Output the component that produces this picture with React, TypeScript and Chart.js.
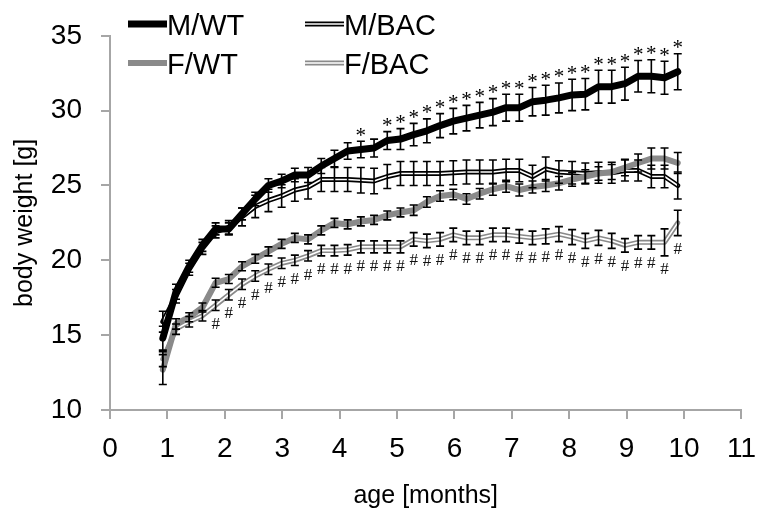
import React, { useEffect, useRef } from 'react';
import { Chart, registerables } from 'chart.js';

Chart.register(...registerables);

// ---- data ----
const ages = [
  0.92, 1.15, 1.38, 1.61, 1.84, 2.07, 2.30, 2.53, 2.76, 2.99,
  3.22, 3.45, 3.68, 3.91, 4.14, 4.37, 4.60, 4.83, 5.06, 5.29,
  5.52, 5.75, 5.98, 6.21, 6.44, 6.67, 6.90, 7.13, 7.36, 7.59,
  7.82, 8.05, 8.28, 8.51, 8.74, 8.97, 9.20, 9.43, 9.66, 9.89,
];

const mWT = [
  14.8, 17.9, 19.6, 21.0, 22.1, 22.1, 23.1, 24.1, 25.0, 25.3,
  25.7, 25.7, 26.3, 26.8, 27.3, 27.4, 27.5, 28.0, 28.1, 28.4,
  28.65, 29.0, 29.3, 29.5, 29.7, 29.9, 30.2, 30.2, 30.6, 30.7,
  30.85, 31.05, 31.1, 31.6, 31.6, 31.8, 32.3, 32.3, 32.2, 32.6,
];
const mWTErr = [
  0.8, 0.5, 0.4, 0.4, 0.4, 0.4, 0.4, 0.45, 0.45, 0.45,
  0.45, 0.5, 0.5, 0.55, 0.55, 0.55, 0.6, 0.6, 0.7, 0.75,
  0.8, 0.8, 0.85, 0.85, 0.85, 0.9, 0.9, 0.9, 0.95, 1.0,
  1.0, 1.05, 1.05, 1.1, 1.1, 1.1, 1.05, 1.1, 1.1, 1.2,
];

const mBAC = [
  15.9, 17.6, 19.4, 20.8, 21.9, 22.2, 22.9, 23.6, 24.0, 24.3,
  24.7, 24.9, 25.4, 25.4, 25.4, 25.35, 25.3, 25.6, 25.8, 25.8,
  25.8, 25.8, 25.85, 25.9, 25.9, 25.9, 26.0, 26.0, 25.6, 26.1,
  25.9, 25.85, 25.8, 25.85, 25.85, 26.0, 26.0, 25.6, 25.6, 25.0,
];
const mBACErr = [
  0.7, 0.45, 0.4, 0.4, 0.4, 0.45, 0.6, 0.75, 0.75, 0.75,
  0.75, 0.8, 0.8, 0.8, 0.8, 0.85, 0.85, 0.8, 0.8, 0.8,
  0.8, 0.8, 0.8, 0.8, 0.8, 0.8, 0.75, 0.75, 0.75, 0.8,
  0.75, 0.75, 0.7, 0.7, 0.7, 0.7, 0.7, 0.75, 0.75, 0.9,
];

const fWT = [
  12.7, 15.75, 16.2, 16.85, 18.5, 18.75, 19.6, 20.1, 20.6, 21.1,
  21.5, 21.4, 22.0, 22.5, 22.4, 22.6, 22.7, 23.0, 23.2, 23.35,
  23.9, 24.3, 24.4, 24.1, 24.45, 24.75, 24.95, 24.7, 24.9, 25.0,
  25.15, 25.4, 25.6, 25.8, 25.9, 26.2, 26.5, 26.8, 26.8, 26.5,
];
const fWTErr = [
  1.0, 0.35, 0.3, 0.3, 0.3, 0.3, 0.3, 0.3, 0.3, 0.3,
  0.3, 0.3, 0.3, 0.3, 0.3, 0.3, 0.3, 0.3, 0.3, 0.35,
  0.35, 0.35, 0.35, 0.35, 0.35, 0.4, 0.4, 0.4, 0.4, 0.4,
  0.45, 0.45, 0.45, 0.45, 0.5, 0.55, 0.6, 0.7, 0.7, 0.7,
];

const fBAC = [
  13.4, 15.4, 15.9, 16.3, 17.0, 17.7, 18.4, 18.95, 19.4, 19.8,
  20.0, 20.3, 20.65, 20.65, 20.7, 20.9, 20.9, 20.9, 20.9, 21.4,
  21.3, 21.4, 21.7, 21.5, 21.5, 21.7, 21.7, 21.6, 21.5, 21.6,
  21.75, 21.55, 21.3, 21.5, 21.3, 21.0, 21.2, 21.2, 21.2, 22.5,
];
const fBACErr = [
  0.5, 0.35, 0.35, 0.35, 0.35, 0.35, 0.35, 0.35, 0.35, 0.35,
  0.35, 0.35, 0.35, 0.35, 0.35, 0.4, 0.4, 0.4, 0.4, 0.45,
  0.45, 0.45, 0.45, 0.45, 0.45, 0.45, 0.45, 0.45, 0.45, 0.5,
  0.5, 0.5, 0.5, 0.5, 0.5, 0.45, 0.45, 0.45, 0.9, 0.85,
];

// significance marks: males (*) above M/WT, females (#) below F/BAC
const mSig = [
  '', '', '', '', '', '', '', '', '', '',
  '', '', '', '', '', '*', '', '*', '*', '*',
  '*', '*', '*', '*', '*', '*', '*', '*', '*', '*',
  '*', '*', '*', '*', '*', '*', '*', '*', '*', '*',
];
const fSig = [
  '', '', '', '', '#', '#', '#', '#', '#', '#',
  '#', '#', '#', '#', '#', '#', '#', '#', '#', '#',
  '#', '#', '#', '#', '#', '#', '#', '#', '#', '#',
  '#', '#', '#', '#', '#', '#', '#', '#', '#', '#',
];

const xTicks = [0, 1, 2, 3, 4, 5, 6, 7, 8, 9, 10, 11];
const yTicks = [10, 15, 20, 25, 30, 35];
const seriesNames = ['M/WT', 'M/BAC', 'F/WT', 'F/BAC'];

// ---- styles ----
const SANS = '"Liberation Sans", Arial, Helvetica, sans-serif';
const SERIF = '"Liberation Serif", "Times New Roman", serif';
const GRAY = '#8a8a8a';
const AXIS = '#a6a6a6';

const pts = (ys: number[]) => ages.map((x, i) => ({ x, y: ys[i] }));

const errorSeries = [
  { vals: fBAC, errs: fBACErr },
  { vals: mBAC, errs: mBACErr },
  { vals: fWT, errs: fWTErr },
  { vals: mWT, errs: mWTErr },
];

const overlayPlugin = {
  id: 'overlay',
  afterDatasetsDraw(chart: any) {
    const { ctx } = chart;
    const x = chart.scales.x;
    const y = chart.scales.y;
    ctx.save();
    // error bars
    ctx.strokeStyle = '#000';
    ctx.lineWidth = 1.6;
    errorSeries.forEach(({ vals, errs }) => {
      vals.forEach((v, i) => {
        const px = x.getPixelForValue(ages[i]);
        const top = y.getPixelForValue(v + errs[i]);
        const bot = y.getPixelForValue(v - errs[i]);
        ctx.beginPath();
        ctx.moveTo(px, top);
        ctx.lineTo(px, bot);
        ctx.moveTo(px - 4, top);
        ctx.lineTo(px + 4, top);
        ctx.moveTo(px - 4, bot);
        ctx.lineTo(px + 4, bot);
        ctx.stroke();
      });
    });
    // significance marks
    ctx.fillStyle = '#000';
    ctx.textAlign = 'center';
    ctx.textBaseline = 'middle';
    ctx.font = `21px ${SERIF}`;
    mSig.forEach((s, i) => {
      if (!s) return;
      const px = x.getPixelForValue(ages[i]);
      const top = y.getPixelForValue(mWT[i] + mWTErr[i]);
      ctx.fillText(s, px, top - 5);
    });
    ctx.fillStyle = '#111';
    ctx.font = `17px ${SERIF}`;
    fSig.forEach((s, i) => {
      if (!s) return;
      const px = x.getPixelForValue(ages[i]);
      const bot = y.getPixelForValue(fBAC[i] - fBACErr[i]);
      ctx.fillText(s, px, bot + 14);
    });
    ctx.restore();
  },
  afterDraw(chart: any) {
    const { ctx } = chart;
    ctx.save();
    const items = [
      { name: seriesNames[0], color: '#000', w: 7, core: false, x: 128, y: 24 },
      { name: seriesNames[1], color: '#000', w: 5, core: true, x: 305, y: 24 },
      { name: seriesNames[2], color: GRAY, w: 6, core: false, x: 128, y: 63 },
      { name: seriesNames[3], color: GRAY, w: 5, core: true, x: 305, y: 63 },
    ];
    items.forEach((it) => {
      ctx.lineCap = 'butt';
      ctx.beginPath();
      ctx.strokeStyle = it.color;
      ctx.lineWidth = it.w;
      ctx.moveTo(it.x, it.y);
      ctx.lineTo(it.x + 39, it.y);
      ctx.stroke();
      if (it.core) {
        ctx.beginPath();
        ctx.strokeStyle = '#fff';
        ctx.lineWidth = 1.6;
        ctx.moveTo(it.x - 1, it.y);
        ctx.lineTo(it.x + 40, it.y);
        ctx.stroke();
      }
      ctx.fillStyle = '#000';
      ctx.font = `29px ${SANS}`;
      ctx.textAlign = 'left';
      ctx.textBaseline = 'alphabetic';
      ctx.fillText(it.name, it.x + 39, it.y + 11);
    });
    ctx.restore();
  },
};

export default function App() {
  const canvasRef = useRef<HTMLCanvasElement | null>(null);

  useEffect(() => {
    if (!canvasRef.current) return;
    const lineBase = {
      pointRadius: 0,
      pointHoverRadius: 0,
      tension: 0,
      fill: false,
      borderJoinStyle: 'round' as const,
      borderCapStyle: 'round' as const,
    };
    const chart = new Chart(canvasRef.current, {
      type: 'line',
      data: {
        datasets: [
          { ...lineBase, label: 'M/WT', data: pts(mWT), borderColor: '#000', borderWidth: 7, order: 1 },
          { ...lineBase, label: 'F/WT', data: pts(fWT), borderColor: GRAY, borderWidth: 6, order: 2 },
          { ...lineBase, label: 'M/BAC', data: pts(mBAC), borderColor: '#000', borderWidth: 5, order: 4 },
          { ...lineBase, label: 'M/BAC core', data: pts(mBAC), borderColor: '#fff', borderWidth: 1.6, order: 3 },
          { ...lineBase, label: 'F/BAC', data: pts(fBAC), borderColor: GRAY, borderWidth: 5, order: 6 },
          { ...lineBase, label: 'F/BAC core', data: pts(fBAC), borderColor: '#fff', borderWidth: 1.6, order: 5 },
        ],
      },
      options: {
        responsive: false,
        animation: false,
        devicePixelRatio: 1,
        layout: { padding: { top: 20, right: 16, left: 0, bottom: 0 } },
        plugins: {
          legend: { display: false },
          tooltip: { enabled: false },
        },
        scales: {
          x: {
            type: 'linear',
            min: 0,
            max: 11,
            afterBuildTicks: (s: any) => {
              s.ticks = xTicks.map((v) => ({ value: v }));
            },
            afterFit: (s: any) => {
              s.height = 101;
            },
            ticks: {
              color: '#000',
              font: { family: SANS, size: 28 },
              padding: 13,
              maxRotation: 0,
              autoSkip: false,
              callback: (v: any) => String(v),
            },
            grid: { drawOnChartArea: false, drawTicks: true, tickLength: 9, color: AXIS, lineWidth: 2 },
            border: { color: AXIS, width: 2 },
            title: {
              display: true,
              text: 'age [months]',
              color: '#000',
              font: { family: SANS, size: 25 },
              padding: { top: 0, bottom: 0 },
            },
          },
          y: {
            type: 'linear',
            min: 10,
            max: 35,
            afterBuildTicks: (s: any) => {
              s.ticks = yTicks.map((v) => ({ value: v }));
            },
            afterFit: (s: any) => {
              s.width = 110;
            },
            ticks: {
              color: '#000',
              font: { family: SANS, size: 28 },
              padding: 19,
              callback: (v: any) => String(v),
            },
            grid: { drawOnChartArea: false, drawTicks: true, tickLength: 9, color: AXIS, lineWidth: 2 },
            border: { color: AXIS, width: 2 },
            title: {
              display: true,
              text: 'body weight [g]',
              color: '#000',
              font: { family: SANS, size: 25 },
              padding: { top: 10, bottom: 0 },
            },
          },
        },
      },
      plugins: [overlayPlugin],
    });
    return () => chart.destroy();
  }, []);

  return (
    <div style={{ position: 'fixed', left: 0, top: 0, width: 769, height: 511, background: '#fff' }}>
      <canvas ref={canvasRef} width={769} height={511} style={{ display: 'block' }} />
    </div>
  );
}
